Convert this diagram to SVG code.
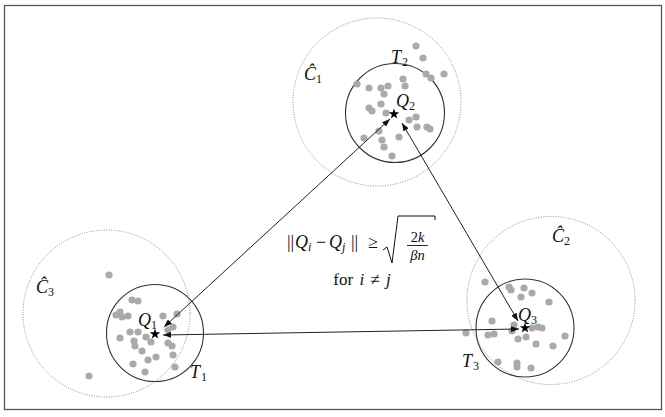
<svg xmlns="http://www.w3.org/2000/svg" width="665" height="417" viewBox="0 0 665 417">
<style>
.bg{fill:#fff}
.frame{fill:none;stroke:#555;stroke-width:1.3}
.solid{fill:none;stroke:#333;stroke-width:1.1}
.dot{fill:none;stroke:#888;stroke-width:1;stroke-dasharray:1 1.5}
.pt{fill:#aaa}
.conn{stroke:#222;stroke-width:1;fill:none}
.m{font-family:"Liberation Serif","DejaVu Serif",serif;font-style:italic;font-size:18px;fill:#111}
.r{font-family:"Liberation Serif","DejaVu Serif",serif;font-size:18px;fill:#111}
.f{font-family:"Liberation Serif","DejaVu Serif",serif;font-size:14.5px;fill:#111}
.s{font-family:"Liberation Serif","DejaVu Serif",serif;font-size:12px;fill:#111}
.i{font-style:italic}
</style>
<defs>
<marker id="ah" viewBox="0 0 8 6" refX="8" refY="3" markerWidth="8" markerHeight="6" markerUnits="userSpaceOnUse" orient="auto-start-reverse">
<path d="M0,0 L8,3 L0,6 z" fill="#111"/>
</marker>
<polygon id="star" points="0,-5.5 1.293,-1.78 5.231,-1.7 2.092,0.68 3.233,4.45 0,2.2 -3.233,4.45 -2.092,0.68 -5.231,-1.7 -1.293,-1.78" fill="#000"/>
<circle id="p" r="3.6" class="pt"/>
</defs>
<rect class="bg" x="0" y="0" width="665" height="417"/>
<rect class="frame" x="4.5" y="5.5" width="657" height="404"/>

<g id="cluster2">
<circle class="dot" cx="377" cy="102" r="84"/>
<circle class="solid" cx="395" cy="113" r="49.5"/>
<g>
<use href="#p" x="416" y="46"/><use href="#p" x="423" y="58"/><use href="#p" x="426" y="74"/><use href="#p" x="431" y="78"/><use href="#p" x="444" y="74"/>
<use href="#p" x="357" y="84"/><use href="#p" x="369" y="88"/><use href="#p" x="381" y="88"/><use href="#p" x="388" y="86"/><use href="#p" x="403" y="79"/>
<use href="#p" x="405" y="86"/><use href="#p" x="384" y="94"/><use href="#p" x="381" y="104"/><use href="#p" x="369" y="108"/><use href="#p" x="372" y="111"/>
<use href="#p" x="386" y="113"/><use href="#p" x="409" y="120"/><use href="#p" x="416" y="117"/><use href="#p" x="417" y="127"/><use href="#p" x="427" y="127"/>
<use href="#p" x="430" y="129"/><use href="#p" x="399" y="137"/><use href="#p" x="379" y="131"/><use href="#p" x="382" y="140"/><use href="#p" x="364" y="138"/>
<use href="#p" x="384" y="147"/><use href="#p" x="392" y="156"/>
</g>
<use href="#star" x="394" y="114"/>
<text class="m" x="396" y="107">Q</text><text class="s" x="409" y="110">2</text>
<text class="m" x="391" y="63">T</text><text class="s" x="402" y="66">2</text>
<text class="m" x="304" y="80">Ĉ</text><text class="s" x="316" y="83">1</text>
</g>

<g id="cluster1">
<circle class="dot" cx="106.5" cy="313.5" r="83.5"/>
<circle class="solid" cx="155" cy="333" r="48.5"/>
<g>
<use href="#p" x="109" y="275"/><use href="#p" x="132" y="300"/><use href="#p" x="138" y="301"/><use href="#p" x="120" y="312"/><use href="#p" x="122" y="317"/>
<use href="#p" x="128" y="316"/><use href="#p" x="116" y="315"/><use href="#p" x="163" y="316"/><use href="#p" x="177" y="314"/><use href="#p" x="173" y="327"/>
<use href="#p" x="168" y="330"/><use href="#p" x="120" y="338"/><use href="#p" x="130" y="332"/><use href="#p" x="138" y="332"/><use href="#p" x="146" y="337"/>
<use href="#p" x="134" y="341"/><use href="#p" x="135" y="346"/><use href="#p" x="142" y="351"/><use href="#p" x="151" y="342"/><use href="#p" x="148" y="360"/>
<use href="#p" x="156" y="357"/><use href="#p" x="168" y="343"/><use href="#p" x="172" y="346"/><use href="#p" x="173" y="355"/><use href="#p" x="133" y="364"/>
<use href="#p" x="145" y="372"/><use href="#p" x="175" y="367"/><use href="#p" x="89" y="376"/>
</g>
<use href="#star" x="155" y="334"/>
<text class="m" x="138" y="326">Q</text><text class="s" x="151" y="329">1</text>
<text class="m" x="190" y="378">T</text><text class="s" x="201" y="381">1</text>
<text class="m" x="36" y="293">Ĉ</text><text class="s" x="48" y="296">3</text>
</g>

<g id="cluster3">
<circle class="dot" cx="551" cy="300.5" r="84"/>
<circle class="solid" cx="525" cy="328" r="49"/>
<g>
<use href="#p" x="485" y="282"/><use href="#p" x="509" y="287"/><use href="#p" x="511" y="290"/><use href="#p" x="524" y="288"/><use href="#p" x="532" y="293"/>
<use href="#p" x="521" y="297"/><use href="#p" x="549" y="302"/><use href="#p" x="492" y="321"/><use href="#p" x="514" y="325"/><use href="#p" x="512" y="331"/>
<use href="#p" x="532" y="328"/><use href="#p" x="538" y="327"/><use href="#p" x="542" y="328"/><use href="#p" x="466" y="333"/><use href="#p" x="488" y="335"/>
<use href="#p" x="494" y="334"/><use href="#p" x="518" y="339"/><use href="#p" x="526" y="337"/><use href="#p" x="536" y="344"/><use href="#p" x="553" y="346"/>
<use href="#p" x="565" y="336"/><use href="#p" x="498" y="362"/><use href="#p" x="517" y="363"/><use href="#p" x="517" y="367"/><use href="#p" x="531" y="368"/>
</g>
<use href="#star" x="525" y="328"/>
<text class="m" x="518" y="321">Q</text><text class="s" x="531" y="324">3</text>
<text class="m" x="462" y="367">T</text><text class="s" x="473" y="370">3</text>
<text class="m" x="552" y="242">Ĉ</text><text class="s" x="564" y="245">2</text>
</g>

<g id="connectors">
<line class="conn" x1="164" y1="327" x2="390" y2="119" marker-start="url(#ah)" marker-end="url(#ah)"/>
<line class="conn" x1="402" y1="123" x2="518" y2="321" marker-start="url(#ah)" marker-end="url(#ah)"/>
<line class="conn" x1="163" y1="335" x2="519" y2="329" marker-start="url(#ah)" marker-end="url(#ah)"/>
</g>

<g id="formula">
<text class="r" x="287" y="248">||</text>
<text class="m" x="295" y="248">Q</text><text class="s i" x="308" y="251">i</text>
<text class="r" x="316" y="248">−</text>
<text class="m" x="329" y="248">Q</text><text class="s i" x="342" y="251">j</text>
<text class="r" x="351" y="248">||</text>
<text class="r" x="368" y="248">≥</text>
<path d="M383,250 L387,247 L392,263 L398,216 L435,216 L435,220" fill="none" stroke="#111" stroke-width="1"/>
<text class="f" x="417.5" y="242" text-anchor="middle">2<tspan class="i">k</tspan></text>
<line x1="407" y1="245.5" x2="428" y2="245.5" stroke="#111" stroke-width="0.9"/>
<text class="f i" x="417.5" y="259.5" text-anchor="middle">βn</text>
<text class="r" x="362" y="285" text-anchor="middle" style="font-size:17px;word-spacing:2px">for <tspan class="i">i</tspan> ≠ <tspan class="i">j</tspan></text>
</g>
</svg>
